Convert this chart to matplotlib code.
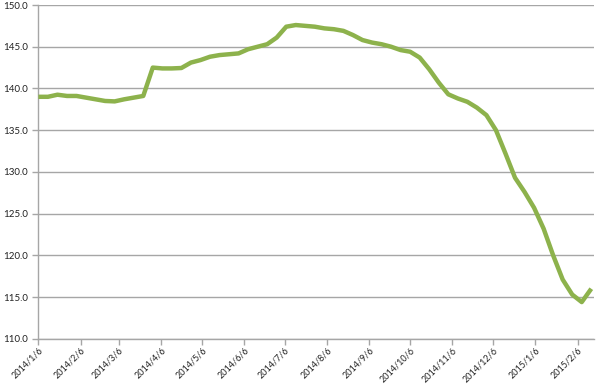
import numpy as np
import pandas as pd
import matplotlib
matplotlib.use("Agg")
from matplotlib import pyplot as plt

# weekly series, 2014/1/6 - 2015/2/16
start = "2014-01-06"
values = [
    139.0, 139.0, 139.25, 139.1, 139.1, 138.9, 138.7, 138.5, 138.45, 138.7,
    138.9, 139.1, 142.5, 142.4, 142.4, 142.45, 143.1, 143.4, 143.8, 144.0,
    144.1, 144.2, 144.7, 145.0, 145.3, 146.1, 147.4, 147.6, 147.5, 147.4,
    147.2, 147.1, 146.9, 146.4, 145.8, 145.5, 145.3, 145.0, 144.6, 144.4,
    143.7, 142.3, 140.7, 139.3, 138.8, 138.4, 137.7, 136.8, 135.0, 132.2,
    129.3, 127.6, 125.7, 123.2, 120.0, 117.1, 115.3, 114.4, 116.0,
]
dates = pd.date_range(start, periods=len(values), freq="7D")

tick_dates = ["2014-01-06", "2014-02-06", "2014-03-06", "2014-04-06", "2014-05-06",
              "2014-06-06", "2014-07-06", "2014-08-06", "2014-09-06", "2014-10-06",
              "2014-11-06", "2014-12-06", "2015-01-06", "2015-02-06"]
tick_labels = ["2014/1/6", "2014/2/6", "2014/3/6", "2014/4/6", "2014/5/6",
               "2014/6/6", "2014/7/6", "2014/8/6", "2014/9/6", "2014/10/6",
               "2014/11/6", "2014/12/6", "2015/1/6", "2015/2/6"]
y_ticks = [110, 115, 120, 125, 130, 135, 140, 145, 150]

plt.rcParams['font.family'] = ['Lato', 'DejaVu Sans']

fig = plt.figure(figsize=(6, 3.85), dpi=100)
ax = fig.add_axes([0.064, 0.12, 0.926, 0.867])

ax.plot(dates, values, color='#8db24c', linewidth=3.2, solid_joinstyle='round',
        solid_capstyle='butt', zorder=3)

ax.set_ylim(110, 150)
ax.set_yticks(y_ticks)
ax.set_yticklabels(["%.1f" % v for v in y_ticks])
ax.set_xlim(pd.Timestamp(start), dates[-1] + pd.Timedelta(days=2))
ax.set_xticks(pd.to_datetime(tick_dates))
ax.set_xticklabels(tick_labels, rotation=45, ha='right', rotation_mode='anchor')

ax.grid(True, axis='y', color='#a6a6a6', linewidth=1.0)
ax.set_axisbelow(True)
for side in ['top', 'right']:
    ax.spines[side].set_visible(False)
for side in ['left', 'bottom']:
    ax.spines[side].set_color('#a6a6a6')
    ax.spines[side].set_linewidth(1.0)
ax.tick_params(axis='both', colors='#a6a6a6', length=4, width=1, labelsize=7,
               labelcolor='#222222')
ax.tick_params(axis='x', pad=1, labelsize=6.5)

fig.savefig('out.png', dpi=100)
